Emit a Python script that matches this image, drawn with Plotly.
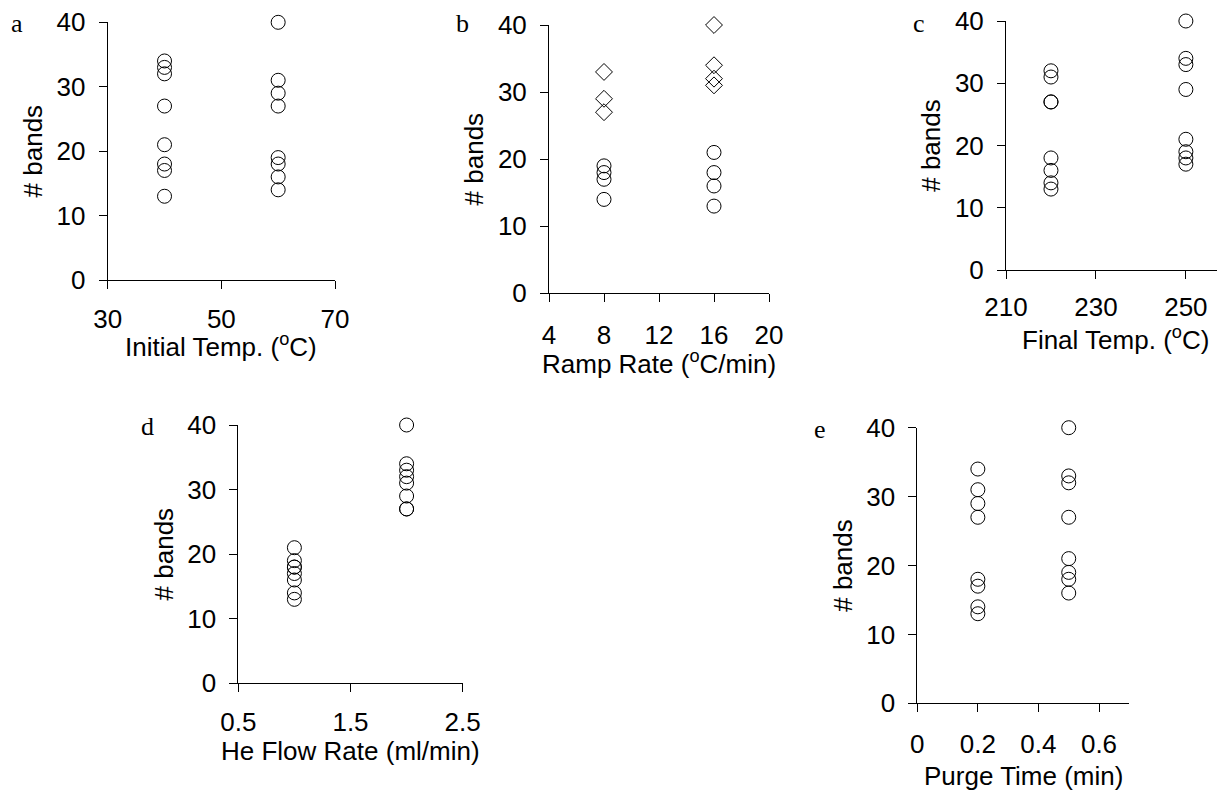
import plotly.graph_objects as go

# the page body adds an 8px margin, so the figure fills the rest of the window
OX, OY = 8, 8
W, H = 1225 - OX, 791 - OY

# ---------------- data ----------------
a_x = [40] * 8 + [60] * 8
a_y = [34, 33, 32, 27, 21, 18, 17, 13, 40, 31, 29, 27, 19, 18, 16, 14]

b_circ_x = [8] * 4 + [16] * 4
b_circ_y = [19, 18, 17, 14, 21, 18, 16, 13]
b_diam_x = [8] * 3 + [16] * 4
b_diam_y = [33, 29, 27, 40, 34, 32, 31]

c_x = [220] * 8 + [250] * 8
c_y = [32, 31, 27, 27, 18, 16, 14, 13, 40, 34, 33, 29, 21, 19, 18, 17]

d_x = [1] * 8 + [2] * 8
d_y = [21, 19, 18, 18, 17, 16, 14, 13, 40, 34, 33, 32, 31, 29, 27, 27]

e_x = [0.2] * 8 + [0.5] * 8
e_y = [34, 31, 29, 27, 18, 17, 14, 13, 40, 33, 32, 27, 21, 19, 18, 16]

y_ticks = [0, 10, 20, 30, 40]
a_xticks = [30, 50, 70]
b_xticks = [4, 8, 12, 16, 20]
c_xticks = [210, 230, 250]
d_xticks = [0.5, 1.5, 2.5]
e_xticks = [0, 0.2, 0.4, 0.6]
e_xticklabels = ["0", "0.2", "0.4", "0.6"]

# ---------------- layout helpers ----------------
FONT = "Liberation Sans, Arial, sans-serif"
SERIF = "Liberation Serif, Times New Roman, serif"
FS_TICK = 26
FS_TITLE = 26


def px_x(p):
    return (p - OX) / W


def px_y(p):
    return 1 - (p - OY) / H


# panel boxes in screen pixels: (x0, x1, ytop, ybottom)
boxes = {
    "a": (107.7, 335.0, 22.3, 280.0),
    "b": (549.0, 769.0, 25.0, 293.3),
    "c": (1006.0, 1225.0, 21.0, 270.0),
    "d": (238.3, 462.7, 425.0, 683.3),
    "e": (917.3, 1129.3, 427.7, 703.3),
}

fig = go.Figure()

mk_circle = dict(symbol="circle-open", size=14, color="black", line=dict(width=1, color="black"))
mk_diam = dict(symbol="diamond-open", size=13, color="black", line=dict(width=1, color="black"))

traces = [
    ("x", "y", a_x, a_y, mk_circle),
    ("x2", "y2", b_circ_x, b_circ_y, mk_circle),
    ("x2", "y2", b_diam_x, b_diam_y, mk_diam),
    ("x3", "y3", c_x, c_y, mk_circle),
    ("x4", "y4", d_x, d_y, mk_circle),
    ("x5", "y5", e_x, e_y, mk_circle),
]
for xa, ya, xs, ys, mk in traces:
    fig.add_trace(go.Scatter(x=xs, y=ys, xaxis=xa, yaxis=ya, mode="markers",
                             marker=mk, cliponaxis=False, showlegend=False,
                             hoverinfo="x+y"))

# key, x range, ticks, ticktext, x title, tick-label standoff, title centre y (screen px)
panels = [
    ("a", [30, 70], a_xticks, None, "Initial Temp. (<sup>o</sup>C)", 8, 346),
    ("b", [4, 20], b_xticks, None, "Ramp Rate (<sup>o</sup>C/min)", 10, 362),
    ("c", [210, 258.7], c_xticks, None, "Final Temp. (<sup>o</sup>C)", 6, 338),
    ("d", [0.5, 2.5], d_xticks, None, "He Flow Rate (ml/min)", 7, 751),
    ("e", [0, 0.7], e_xticks, e_xticklabels, "Purge Time (min)", 9, 776),
]

axis_common = dict(
    showline=True, linecolor="black", linewidth=1,
    ticks="outside", ticklen=8, tickwidth=1, tickcolor="black",
    showgrid=False, zeroline=False, automargin=False,
    ticklabeloverflow="allow",
    tickfont=dict(family=FONT, size=FS_TICK, color="black"),
    fixedrange=True,
)

layout = dict(
    width=W, height=H, margin=dict(l=0, r=0, t=0, b=0),
    plot_bgcolor="white", paper_bgcolor="white",
    font=dict(family=FONT, size=FS_TICK, color="black"),
    showlegend=False,
)

annotations = []
# panel letter centres (screen px)
label_pos = {"a": (17, 24), "b": (462, 24), "c": (918.5, 23), "d": (147, 426), "e": (820, 430)}

for i, (key, xr, xt, xtl, xtitle, tls, ty) in enumerate(panels, start=1):
    x0, x1, yt, yb = boxes[key]
    sfx = "" if i == 1 else str(i)
    xaxis = dict(axis_common)
    xaxis.update(domain=[px_x(x0), px_x(x1)], range=xr, tickvals=xt,
                 anchor="y" + sfx, ticklabelstandoff=tls)
    if xtl is not None:
        xaxis["ticktext"] = xtl
    yaxis = dict(axis_common)
    yaxis.update(domain=[px_y(yb), px_y(yt)], range=[0, 40], tickvals=y_ticks,
                 anchor="x" + sfx, ticklabelstandoff=8,
                 title=dict(text="# bands", font=dict(family=FONT, size=FS_TITLE), standoff=6))
    layout["xaxis" + sfx] = xaxis
    layout["yaxis" + sfx] = yaxis
    # x-axis title
    annotations.append(dict(text=xtitle, x=px_x((x0 + x1) / 2), y=px_y(ty),
                            xref="paper", yref="paper", showarrow=False,
                            xanchor="center", yanchor="middle",
                            font=dict(family=FONT, size=FS_TITLE, color="black")))
    lx, ly = label_pos[key]
    annotations.append(dict(text=key, x=px_x(lx), y=px_y(ly), xref="paper", yref="paper",
                            showarrow=False, xanchor="center", yanchor="middle",
                            font=dict(family=SERIF, size=26, color="black")))

layout["annotations"] = annotations
fig.update_layout(**layout)

fig.write_html("out.html")
